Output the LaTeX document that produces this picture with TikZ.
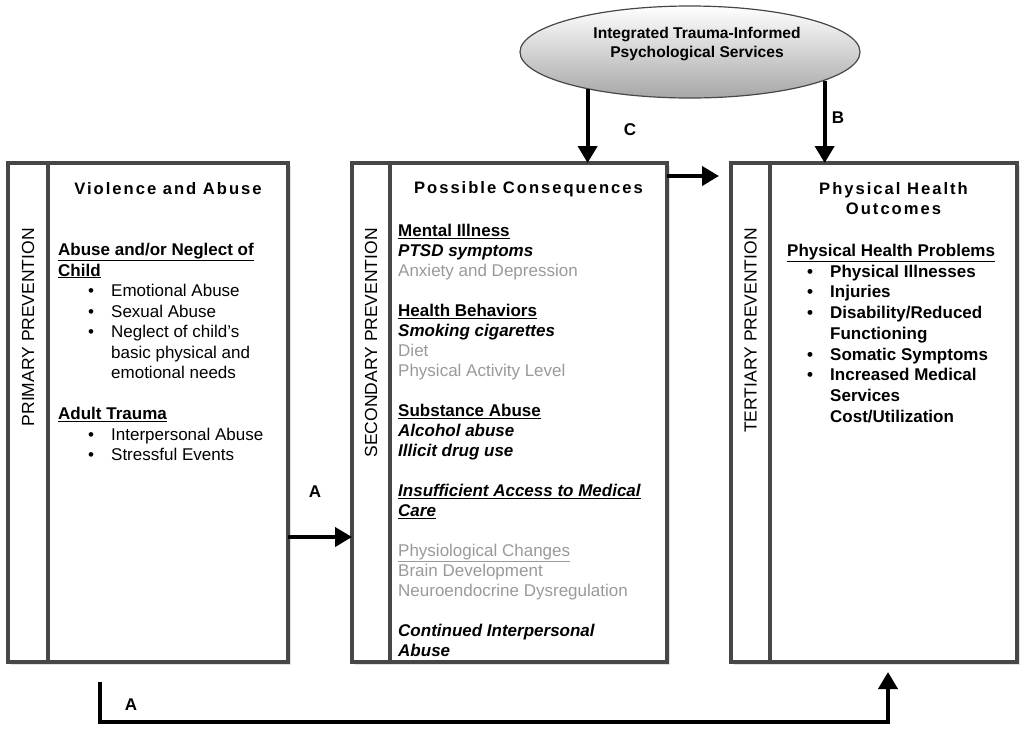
\documentclass[tikz,border=0pt]{standalone}
\usepackage{fontspec}
\setmainfont{Liberation Sans}
\newfontfamily\spacedfont[LetterSpace=12]{Liberation Sans}
\usetikzlibrary{arrows.meta, positioning, shapes.geometric, shadows}
\definecolor{c1}{HTML}{000000}
\definecolor{c2}{HTML}{474747}
\definecolor{c3}{HTML}{9A9A9A}
\definecolor{c4}{HTML}{C4C4C4}
\newcommand{\lbul}[1]{\hspace*{30pt}\makebox[23pt][l]{\textbullet}#1}
\newcommand{\lcont}[1]{\hspace*{53pt}#1}
\newcommand{\rbul}[1]{\hspace*{20pt}\makebox[23pt][l]{\textbullet}#1}
\newcommand{\rcont}[1]{\hspace*{43pt}#1}

\begin{document}
\begin{tikzpicture}[
    x=1pt, y=-1pt,
    panel/.style={rectangle, draw=c2, fill=white, line width=3.4pt, outer sep=0pt,
                  minimum height=499pt,
                  drop shadow={shadow xshift=2.5pt, shadow yshift=-2.5pt, fill=c4}},
    vlab/.style={font=\fontsize{17.5}{20}\selectfont, rotate=90, anchor=east, inner sep=0pt},
    ttl/.style={font=\spacedfont\bfseries\fontsize{16.6}{20}\selectfont, align=center, inner sep=0pt},
    body/.style={font=\fontsize{17}{20.5}\selectfont, align=left, anchor=north west, inner sep=0pt},
    albl/.style={font=\bfseries\fontsize{17}{20}\selectfont, inner sep=0pt},
    svcbox/.style={ellipse, draw=c2, line width=1.2pt, top color=white, bottom color=c4!85!black,
                   minimum width=340pt, minimum height=92pt},
    svctxt/.style={align=center, inner sep=0pt, font=\bfseries\fontsize{15.6}{18.5}\selectfont},
    arr/.style={-{Triangle[length=17pt, width=19pt]}, line width=4pt, color=c1},
]
\useasboundingbox (0,0) rectangle (1027,729);

\node[svcbox] (svc) at (690, 52) {};
\node[svctxt] (svcname) at (697, 44) {Integrated Trauma-Informed\\ Psychological Services};

% ================================================================ left panel
\node[panel, minimum width=40pt] (lstrip) at (28, 412.5) {};
\node[panel, minimum width=240pt, right=0pt of lstrip] (lmain) {};
\node[vlab] (llab) at ([yshift=-65pt]lstrip.north) {PRIMARY PREVENTION};
\node[ttl] (lttl) at ([yshift=-26pt]lmain.north) {Violence and Abuse};
\node[body] (ltxt) at ([xshift=10pt, yshift=-80pt]lmain.north west)
     {\underline{\textbf{Abuse and/or Neglect of}}\\
      \underline{\textbf{Child}}\\
      \lbul{Emotional Abuse}\\
      \lbul{Sexual Abuse}\\
      \lbul{Neglect of child’s}\\
      \lcont{basic physical and}\\
      \lcont{emotional needs}\\[20.5pt]
      \underline{\textbf{Adult Trauma}}\\
      \lbul{Interpersonal Abuse}\\
      \lbul{Stressful Events}};

% ============================================================== middle panel
\node[panel, minimum width=38pt] (mstrip) at (371, 412.5) {};
\node[panel, minimum width=277pt, right=0pt of mstrip] (mmain) {};
\node[vlab] (mlab) at ([yshift=-65pt]mstrip.north) {SECONDARY PREVENTION};
\node[ttl] (mttl) at ([yshift=-26pt]mmain.north) {Possible Consequences};
\node[body, font=\fontsize{17}{20}\selectfont] (mtxt) at ([xshift=8pt, yshift=-61pt]mmain.north west)
     {\underline{\textbf{Mental Illness}}\\
      \textbf{\textit{PTSD symptoms}}\\
      {\color{c3}Anxiety and Depression}\\[20pt]
      \underline{\textbf{Health Behaviors}}\\
      \textbf{\textit{Smoking cigarettes}}\\
      {\color{c3}Diet}\\
      {\color{c3}Physical Activity Level}\\[20pt]
      \underline{\textbf{Substance Abuse}}\\
      \textbf{\textit{Alcohol abuse}}\\
      \textbf{\textit{Illicit drug use}}\\[20pt]
      \underline{\textbf{\textit{Insufficient Access to Medical}}}\\
      \underline{\textbf{\textit{Care}}}\\[20pt]
      {\color{c3}\underline{Physiological Changes}}\\
      {\color{c3}Brain Development}\\
      {\color{c3}Neuroendocrine Dysregulation}\\[20pt]
      \textbf{\textit{Continued Interpersonal}}\\
      \textbf{\textit{Abuse}}};

% =============================================================== right panel
\node[panel, minimum width=39pt] (rstrip) at (750.5, 412.5) {};
\node[panel, minimum width=247pt, right=0pt of rstrip] (rmain) {};
\node[vlab] (rlab) at ([yshift=-65pt]rstrip.north) {TERTIARY PREVENTION};
\node[ttl] (rttl) at ([yshift=-36pt]rmain.north) {Physical Health\\ Outcomes};
\node[body, font=\bfseries\fontsize{17}{20.7}\selectfont] (rtxt) at ([xshift=17pt, yshift=-81pt]rmain.north west)
     {\underline{Physical Health Problems}\\
      \rbul{Physical Illnesses}\\
      \rbul{Injuries}\\
      \rbul{Disability/Reduced}\\
      \rcont{Functioning}\\
      \rbul{Somatic Symptoms}\\
      \rbul{Increased Medical}\\
      \rcont{Services}\\
      \rcont{Cost/Utilization}};

% ================================================================== arrows
\draw[arr] ([yshift=-124.5pt]lmain.east) -- ([yshift=-124.5pt]mstrip.west);
\node[albl] (la1) at (315, 492) {A};

\draw[arr] (svc.200) -- (svc.200 |- mmain.north);
\node[albl] (lc) at (630, 130) {C};
\draw[arr] (svc.-12) -- (svc.-12 |- rmain.north);
\node[albl] (lb) at (838, 118) {B};

\draw[arr] ([yshift=-13pt]mmain.north east) -- ([xshift=-12pt, yshift=-13pt]rstrip.north west);

% the long way round, below the panels
\coordinate (abend) at (500, 722);
\draw[arr] ([xshift=52pt, yshift=-20pt]lmain.south west) |- (abend)
           -| ([xshift=118pt, yshift=-10pt]rmain.south west);
\node[albl] (la2) at (131, 705) {A};

\end{tikzpicture}
\end{document}
